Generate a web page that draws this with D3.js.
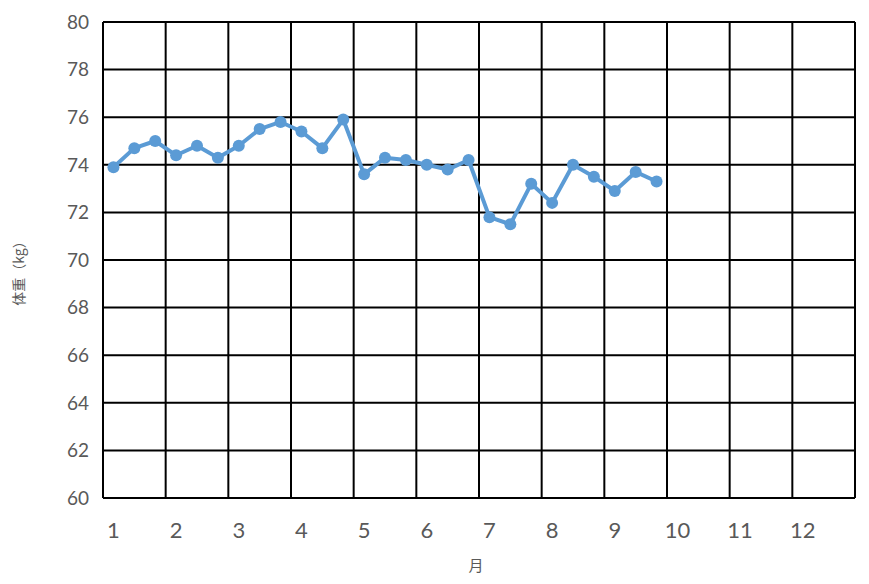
<!DOCTYPE html>
<html>
<head>
<meta charset="utf-8">
<script src="https://cdn.jsdelivr.net/npm/d3@7"></script>
<style>
  body { margin: 0; background: #fff; }
  text { font-family: Lato, "Noto Sans", sans-serif; }
</style>
</head>
<body>
<div id="chart"></div>
<script>
// months on the axis, 3 readings per month (36 slots, 27 filled)
const months = ['1','2','3','4','5','6','7','8','9','10','11','12'];
const weights = [73.9, 74.7, 75.0, 74.4, 74.8, 74.3, 74.8, 75.5, 75.8,
  75.4, 74.7, 75.9, 73.6, 74.3, 74.2, 74.0, 73.8, 74.2,
  71.8, 71.5, 73.2, 72.4, 74.0, 73.5, 72.9, 73.7, 73.3];
const yTicks = [60, 62, 64, 66, 68, 70, 72, 74, 76, 78, 80];

const width = 869, height = 584;
const margin = { top: 22, right: 14, bottom: 86, left: 103 };

const slots = d3.range(36);
const x = d3.scaleBand()
  .domain(slots)
  .range([margin.left, width - margin.right])
  .paddingInner(0).paddingOuter(0);

const y = d3.scaleLinear()
  .domain([60, 80])
  .range([height - margin.bottom, margin.top]);

const svg = d3.select('#chart')
  .append('svg')
  .attr('width', width)
  .attr('height', height);

// horizontal grid
svg.append('g')
  .selectAll('line')
  .data(yTicks)
  .enter()
  .append('line')
  .attr('x1', margin.left)
  .attr('x2', width - margin.right)
  .attr('y1', d => y(d))
  .attr('y2', d => y(d))
  .attr('stroke', '#000')
  .attr('stroke-width', 2);

// vertical grid, one line per month boundary
svg.append('g')
  .selectAll('line')
  .data(d3.range(0, 37, 3))
  .enter()
  .append('line')
  .attr('x1', d => d < 36 ? x(d) : x(35) + x.bandwidth())
  .attr('x2', d => d < 36 ? x(d) : x(35) + x.bandwidth())
  .attr('y1', y(60))
  .attr('y2', y(80))
  .attr('stroke', '#000')
  .attr('stroke-width', 2);

// y tick labels
svg.append('g')
  .selectAll('text')
  .data(yTicks)
  .enter()
  .append('text')
  .attr('x', 89)
  .attr('y', d => y(d))
  .attr('dy', '0.36em')
  .attr('text-anchor', 'end')
  .attr('fill', '#595959')
  .style('font-size', '19px')
  .text(d => d);

// x tick labels (month label sits on first slot of each month)
svg.append('g')
  .selectAll('text')
  .data(months)
  .enter()
  .append('text')
  .attr('x', (d, i) => x(i * 3) + x.bandwidth() / 2)
  .attr('y', 530)
  .attr('dy', '0.36em')
  .attr('text-anchor', 'middle')
  .attr('fill', '#595959')
  .style('font-size', '22px')
  .text(d => d);

// axis titles
svg.append('text')
  .attr('x', 476)
  .attr('y', 566)
  .attr('dy', '0.35em')
  .attr('text-anchor', 'middle')
  .attr('fill', '#595959')
  .style('font-size', '15px')
  .style('font-family', '"Noto Sans CJK JP", sans-serif')
  .text('月');

svg.append('text')
  .attr('transform', 'translate(19, 270) rotate(-90)')
  .attr('dy', '0.35em')
  .attr('text-anchor', 'middle')
  .attr('fill', '#595959')
  .style('font-size', '14px')
  .style('font-family', '"Noto Sans CJK JP", sans-serif')
  .text('体重（kg）');

// series
const line = d3.line()
  .x((d, i) => x(i) + x.bandwidth() / 2)
  .y(d => y(d));

svg.append('path')
  .datum(weights)
  .attr('d', line)
  .attr('fill', 'none')
  .attr('stroke', '#5B9BD5')
  .attr('stroke-width', 4)
  .attr('stroke-linejoin', 'round');

svg.append('g')
  .selectAll('circle')
  .data(weights)
  .enter()
  .append('circle')
  .attr('cx', (d, i) => x(i) + x.bandwidth() / 2)
  .attr('cy', d => y(d))
  .attr('r', 6)
  .attr('fill', '#5B9BD5');
</script>
</body>
</html>
